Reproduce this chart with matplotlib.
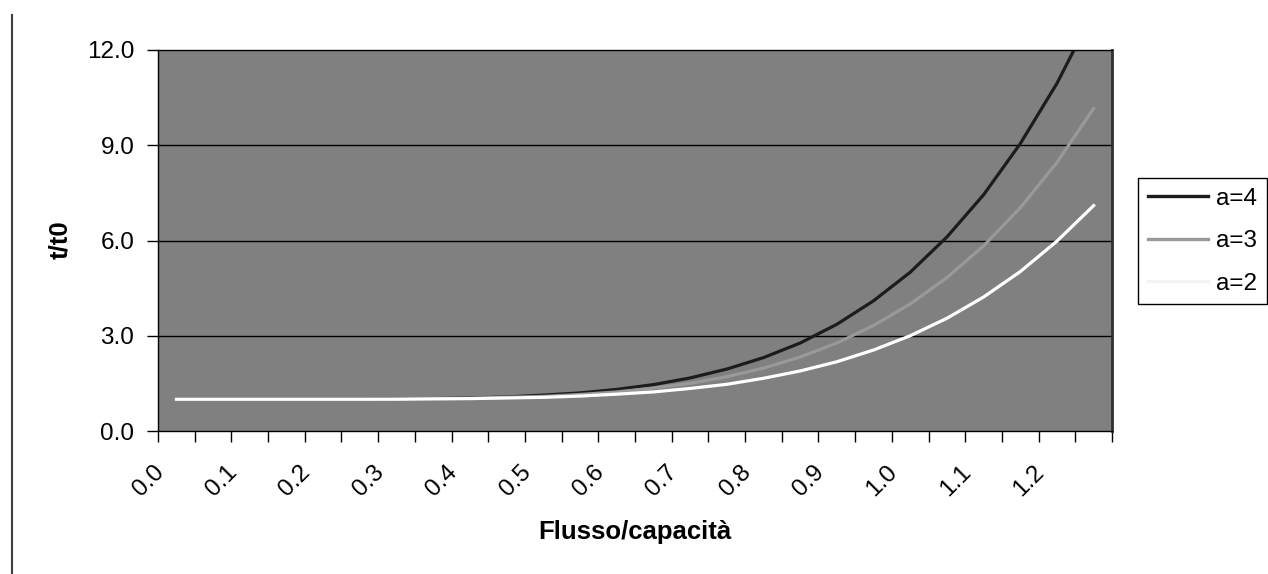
import numpy as np
import matplotlib
matplotlib.use('Agg')
import matplotlib.pyplot as plt
from matplotlib.lines import Line2D
from matplotlib.transforms import ScaledTranslation

plt.rcParams['font.family'] = ['Liberation Sans', 'DejaVu Sans']

# flow/capacity categories and t/t0 for each exponent
flow = [0.00, 0.05, 0.10, 0.15, 0.20, 0.25, 0.30, 0.35, 0.40, 0.45, 0.50, 0.55, 0.60,
        0.65, 0.70, 0.75, 0.80, 0.85, 0.90, 0.95, 1.00, 1.05, 1.10, 1.15, 1.20, 1.25]
t_a4 = [1.00, 1.00, 1.00, 1.00, 1.00, 1.00, 1.01, 1.02, 1.04, 1.07, 1.13, 1.20, 1.31,
        1.46, 1.67, 1.95, 2.31, 2.77, 3.36, 4.10, 5.00, 6.11, 7.44, 9.05, 10.95, 13.21]
t_a3 = [1.00, 1.00, 1.00, 1.00, 1.00, 1.00, 1.01, 1.02, 1.03, 1.06, 1.09, 1.15, 1.23,
        1.35, 1.50, 1.71, 1.98, 2.33, 2.77, 3.32, 4.00, 4.83, 5.83, 7.03, 8.46, 10.16]
t_a2 = [1.00, 1.00, 1.00, 1.00, 1.00, 1.00, 1.00, 1.01, 1.02, 1.04, 1.06, 1.10, 1.16,
        1.23, 1.34, 1.47, 1.66, 1.89, 2.18, 2.55, 3.00, 3.55, 4.22, 5.02, 5.98, 7.10]
yticks = [0.0, 3.0, 6.0, 9.0, 12.0]

W, H = 1268, 574
fig = plt.figure(figsize=(W / 100, H / 100), dpi=100)
ax = fig.add_axes([158 / W, 1 - 431 / H, (1112 - 158) / W, (431 - 50) / H])
ax.set_facecolor('#808080')

xi = np.arange(len(flow))
ax.plot(xi, t_a4, color='#1c1c1c', lw=2.3, label='a=4', solid_joinstyle='round')
ax.plot(xi, t_a3, color='#999999', lw=2.3, label='a=3', solid_joinstyle='round')
ax.plot(xi, t_a2, color='#ffffff', lw=2.3, label='a=2', solid_joinstyle='round')

ax.set_xlim(-0.5, len(flow) - 0.5)
ax.set_ylim(0, 12)
ax.set_yticks(yticks)
ax.set_yticklabels(['%.1f' % v for v in yticks])
for v in yticks[1:-1]:
    ax.axhline(v, color='black', lw=1, zorder=1)

# tick marks between categories, labels on every other category
ax.set_xticks(np.arange(-0.5, len(flow)), minor=True)
ax.set_xticks(xi[::2])
ax.set_xticklabels(['%.1f' % v for v in flow[::2]], rotation=45, ha='right', va='center',
                   rotation_mode='anchor')
ax.tick_params(axis='x', which='major', length=0, pad=27.5, labelsize=17.5)
ax.tick_params(axis='x', which='minor', length=8, width=1, direction='out')
ax.tick_params(axis='y', length=8, width=1, direction='out', pad=9, labelsize=17.5)
off = ScaledTranslation(-16 / 100, 0, fig.dpi_scale_trans)
for lab in ax.get_xticklabels():
    lab.set_transform(lab.get_transform() + off)

for s in ax.spines.values():
    s.set_color('black')
    s.set_linewidth(1)
ax.spines['right'].set_linewidth(2)
ax.spines['right'].set_color('#303030')

fig.text(635 / W, 1 - 539 / H, 'Flusso/capacità', ha='center', va='baseline',
         fontsize=18.5, fontweight='bold')
fig.text(60 / W, 1 - 240 / H, 't/t0', ha='center', va='center', rotation=90,
         fontsize=18.5, fontweight='bold')

handles = [Line2D([], [], color='#1c1c1c', lw=2.4),
           Line2D([], [], color='#999999', lw=2.4),
           Line2D([], [], color='#f4f4f4', lw=2.4)]
leg = ax.legend(handles, ['a=4', 'a=3', 'a=2'], loc='upper left',
                bbox_to_anchor=(1138 / W, 1 - 178 / H), bbox_transform=fig.transFigure,
                fontsize=17.5, handlelength=2.5, handletextpad=0.3, borderpad=0.4,
                labelspacing=0.84, borderaxespad=0, fancybox=False, framealpha=1)
leg.get_frame().set_edgecolor('black')
leg.get_frame().set_linewidth(1)

fig.add_artist(Line2D([11.5 / W, 11.5 / W], [0, 1 - 15 / H], color='#404040', lw=1.5))

fig.savefig('out.png', dpi=100)
